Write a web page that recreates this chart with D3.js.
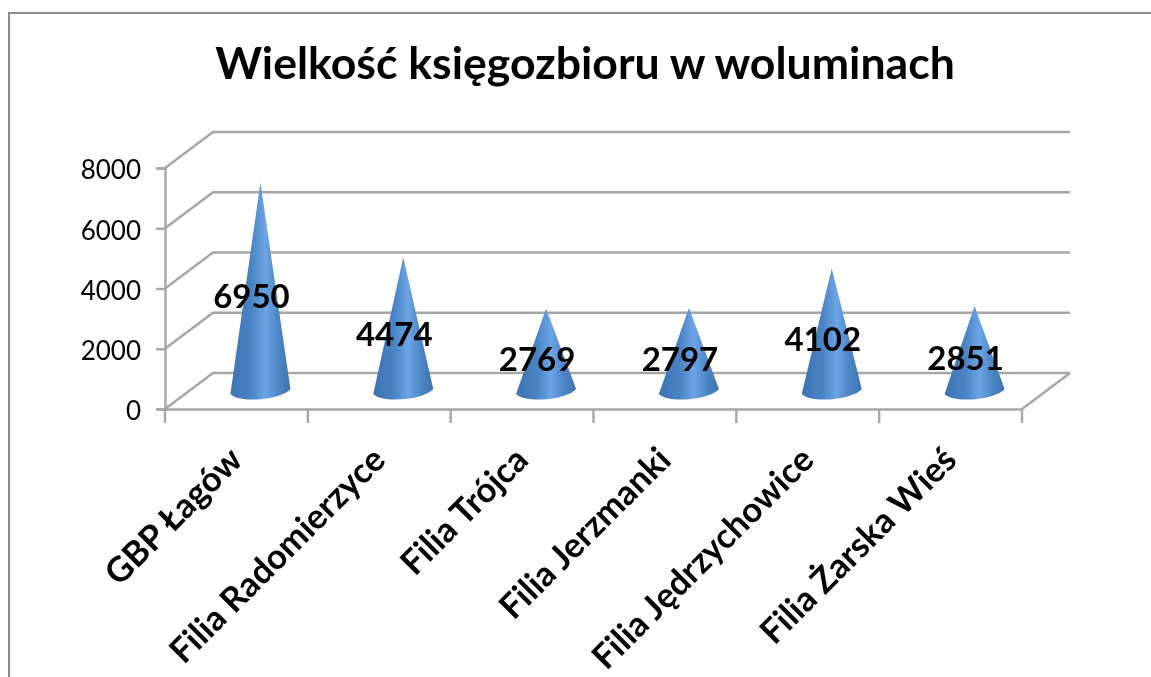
<!DOCTYPE html>
<html>
<head>
<meta charset="utf-8">
<script src="https://cdn.jsdelivr.net/npm/d3@7"></script>
<style>
  html, body { margin: 0; padding: 0; background: #ffffff; overflow: hidden; }
  text { font-family: Lato, "Open Sans", sans-serif; fill: #000000; }
</style>
</head>
<body>
<div id="chart"></div>
<script>
const categories = ["GBP Łagów", "Filia Radomierzyce", "Filia Trójca", "Filia Jerzmanki", "Filia Jędrzychowice", "Filia Żarska Wieś"];
const values = [6950, 4474, 2769, 2797, 4102, 2851];
const yTicks = [0, 2000, 4000, 6000, 8000];
const chartTitle = "Wielkość księgozbioru w woluminach";

const width = 1151, height = 677;
const margin = {top: 168, right: 129, bottom: 267, left: 165};
// offset of the back wall against the front of the floor
const depth = {x: 48, y: -36};
const gridColor = "#a6a6a6";

const svg = d3.select("#chart").append("svg")
    .attr("width", width)
    .attr("height", height);

const defs = svg.append("defs");
const grad = defs.append("linearGradient").attr("id", "coneFill");
grad.append("stop").attr("offset", "0%").attr("stop-color", "#3d73b2");
grad.append("stop").attr("offset", "35%").attr("stop-color", "#4a83c4");
grad.append("stop").attr("offset", "58%").attr("stop-color", "#6ca5e6");
grad.append("stop").attr("offset", "80%").attr("stop-color", "#4c85c6");
grad.append("stop").attr("offset", "100%").attr("stop-color", "#3d72b0");

// source picture is a slightly soft upscale
const soft = defs.append("filter").attr("id", "soft");
soft.append("feGaussianBlur").attr("stdDeviation", 0.6);

const x = d3.scaleBand()
    .domain(categories)
    .range([margin.left, width - margin.right]);
const y = d3.scaleLinear()
    .domain([0, 8000])
    .range([height - margin.bottom - 1, margin.top]);

// outer frame, only top and left are visible
svg.append("path")
    .attr("d", "M9,677V13H1151")
    .attr("fill", "none")
    .attr("stroke", "#8c8c8c")
    .attr("stroke-width", 2);

const plot = svg.append("g").attr("filter", "url(#soft)");

plot.append("text")
    .attr("x", 585)
    .attr("y", 79)
    .attr("text-anchor", "middle")
    .attr("font-size", 44.6)
    .attr("font-weight", 700)
    .text(chartTitle);

// gridlines: side wall + back wall
const grid = plot.append("g")
    .attr("fill", "none")
    .attr("stroke", gridColor)
    .attr("stroke-width", 2.4);
grid.selectAll("path")
    .data(yTicks)
    .enter().append("path")
    .attr("d", d => {
        const p = d3.path();
        p.moveTo(margin.left, y(d));
        p.lineTo(margin.left + depth.x, y(d) + depth.y);
        p.lineTo(width - margin.right + depth.x, y(d) + depth.y);
        return p.toString();
    });

// right side of the floor
grid.append("path")
    .attr("d", () => {
        const p = d3.path();
        p.moveTo(width - margin.right, y(0));
        p.lineTo(width - margin.right + depth.x, y(0) + depth.y);
        return p.toString();
    });

// axes
const xAxis = plot.append("g")
    .attr("transform", "translate(0," + y(0) + ")")
    .call(d3.axisBottom(x).tickSize(0).tickFormat(""));
xAxis.select(".domain").attr("stroke", gridColor).attr("stroke-width", 2.4);
xAxis.selectAll(".xtick")
    .data(d3.range(categories.length + 1))
    .enter().append("line")
    .attr("class", "xtick")
    .attr("x1", i => margin.left + i * x.step())
    .attr("x2", i => margin.left + i * x.step())
    .attr("y1", 0)
    .attr("y2", 14)
    .attr("stroke", gridColor)
    .attr("stroke-width", 2.4);

const yAxis = plot.append("g")
    .attr("transform", "translate(" + margin.left + ",0)")
    .call(d3.axisLeft(y).tickValues(yTicks).tickSize(9).tickPadding(15).tickFormat(d3.format("d")));
yAxis.select(".domain").attr("stroke", gridColor).attr("stroke-width", 2.4);
yAxis.selectAll(".tick line").attr("stroke", gridColor).attr("stroke-width", 2.4);
yAxis.selectAll(".tick text")
    .attr("font-size", 26)
    .attr("dy", "0.42em")
    .attr("font-family", "Lato")
    .attr("fill", "#000");

// cones
const baseShift = {x: depth.x / 2, y: -17};
const coneRx = 30, coneRy = 7;
const cones = plot.selectAll(".cone")
    .data(categories)
    .enter().append("g")
    .attr("class", "cone")
    .attr("transform", d => "translate(" + (x(d) + x.bandwidth() / 2 + baseShift.x) + "," + (y(0) + baseShift.y) + ")");

cones.append("path")
    .attr("fill", "url(#coneFill)")
    .attr("d", (d, i) => {
        const h = y(0) - y(values[i]);
        const p = d3.path();
        p.moveTo(0, -h);
        p.lineTo(coneRx, -3);
        p.bezierCurveTo(coneRx * 0.7, coneRy * 1.1, -coneRx * 0.7, coneRy * 1.7, -coneRx, 2);
        p.closePath();
        return p.toString();
    });

// data labels
plot.selectAll(".value")
    .data(values)
    .enter().append("text")
    .attr("class", "value")
    .attr("x", (d, i) => x(categories[i]) + x.bandwidth() / 2 + baseShift.x - 9)
    .attr("y", d => (y(0) + baseShift.y + y(d) + baseShift.y) / 2 + 21)
    .attr("text-anchor", "middle")
    .attr("font-size", 33)
    .attr("font-weight", 700)
    .text(d => d);

// rotated category labels
plot.selectAll(".cat")
    .data(categories)
    .enter().append("text")
    .attr("class", "cat")
    .attr("text-anchor", "end")
    .attr("font-size", 34.5)
    .attr("font-weight", 700)
    .attr("transform", d => "translate(" + (x(d) + x.bandwidth() / 2 + 8) + "," + (y(0) + 53) + ") rotate(-45)")
    .text(d => d);
</script>
</body>
</html>
